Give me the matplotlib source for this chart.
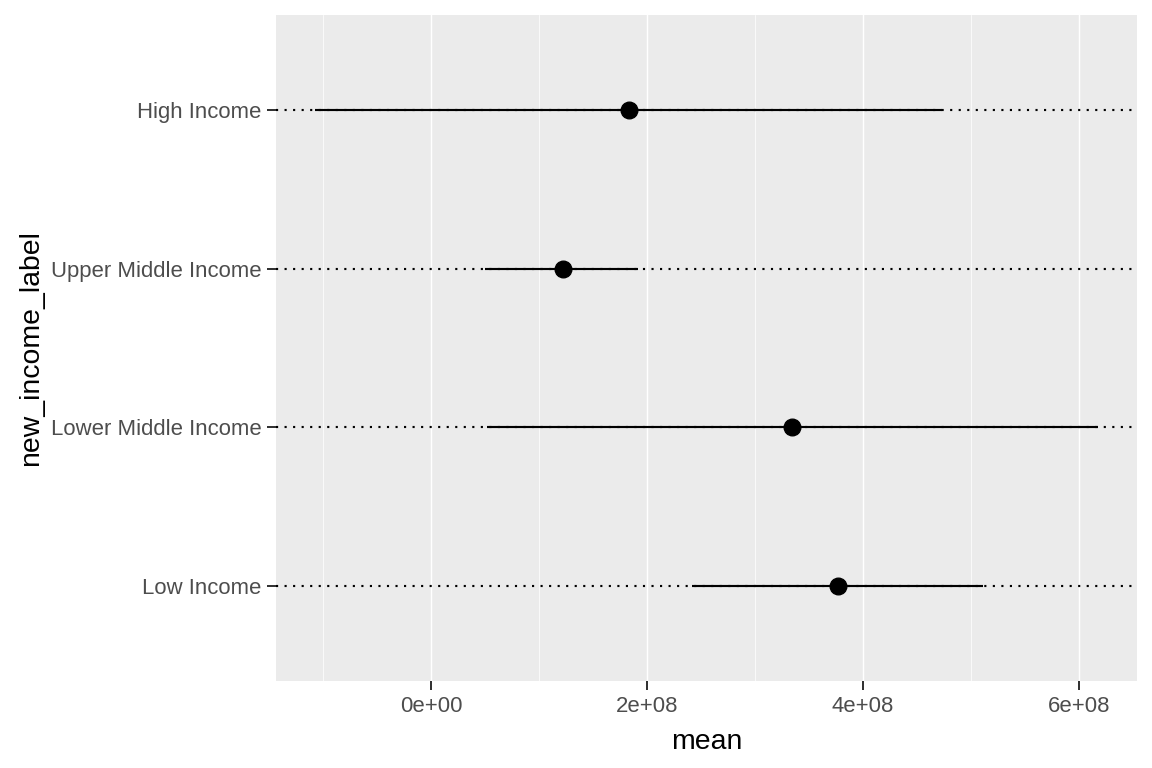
import numpy as np
import matplotlib.pyplot as plt
from matplotlib.ticker import FixedLocator

plt.rcParams['font.family'] = ['Liberation Sans', 'DejaVu Sans']

# data, bottom to top
income_labels = ['Low Income', 'Lower Middle Income', 'Upper Middle Income', 'High Income']
mean_vals = [3.77e8, 3.34e8, 1.22e8, 1.83e8]
lower_vals = [2.42e8, 0.52e8, 0.50e8, -1.07e8]
upper_vals = [5.11e8, 6.18e8, 1.92e8, 4.73e8]
x_ticks = [0, 2e8, 4e8, 6e8]
x_ticklabels = ['0e+00', '2e+08', '4e+08', '6e+08']

fig = plt.figure(figsize=(12, 8), dpi=96)
ax = fig.add_axes([276/1152, 87/768, (1137-276)/1152, (681-15)/768])
ax.set_facecolor('#EBEBEB')
for s in ax.spines.values():
    s.set_visible(False)

ypos = np.arange(len(income_labels))

# grid
ax.xaxis.set_major_locator(FixedLocator(x_ticks))
ax.xaxis.set_minor_locator(FixedLocator([-1e8, 1e8, 3e8, 5e8]))
ax.grid(which='major', axis='x', color='white', lw=1.1)
ax.grid(which='minor', axis='x', color='white', lw=0.55)
ax.set_axisbelow(True)

for y in ypos:
    ax.axhline(y, color='black', lw=1.6, ls=(0, (1, 3)), zorder=2)
ax.hlines(ypos, lower_vals, upper_vals, color='black', lw=1.6, zorder=3)
ax.plot(mean_vals, ypos, 'o', color='black', ms=12.5, zorder=4)

ax.set_xlim(-1.435e8, 6.537e8)
ax.set_ylim(-0.6, 3.6)
ax.set_yticks(ypos)
ax.set_yticklabels(income_labels)
ax.set_xticklabels(x_ticklabels)

ax.tick_params(axis='both', which='major', labelsize=16.6, labelcolor='#4D4D4D',
               color='#333333', length=7, width=1.5, pad=4)
ax.tick_params(which='minor', length=0)

ax.set_xlabel('mean', fontsize=21.3, color='black', labelpad=9)
ax.set_ylabel('new_income_label', fontsize=21.3, color='black', labelpad=5)

fig.savefig('out.png', dpi=96)
